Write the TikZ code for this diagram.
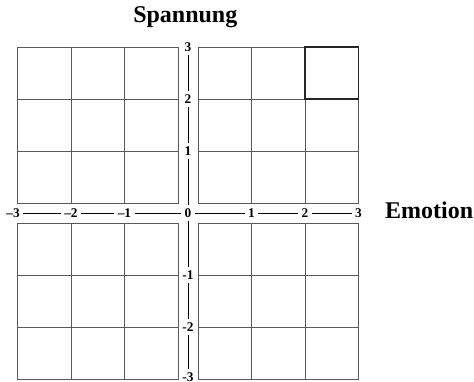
\documentclass[tikz,border=0pt]{standalone}
\usepackage{fontspec}
\setmainfont{Liberation Serif}
\usetikzlibrary{positioning}

\begin{document}
\begin{tikzpicture}[x=40.125pt, y=39pt,
    quadgrid/.style={draw=black!65, line width=0.5pt},
    hlcell/.style={draw=black!85, line width=1.2pt},
    axlabel/.style={font=\fontsize{10}{11}\selectfont\bfseries, inner sep=2.5pt},
    axtitle/.style={font=\fontsize{18}{20}\selectfont\bfseries, inner sep=0pt}]
                \useasboundingbox (-3.514,-3.25) rectangle (5.346,4.096);

                % Quadrants
                \foreach \sx/\sy in {1/1,-1/1,1/-1,-1/-1}
                    \foreach \i in {0,1,2}
                        \foreach \j in {0,1,2}
                            \draw[quadgrid] ({\sx*(0.187+\i)},{\sy*(0.192+\j)}) rectangle ++(\sx,\sy);

                % Marked cell
                \draw[hlcell] (2.187,2.192) rectangle (3.187,3.192);

                % Tick labels
                \node[axlabel] (o) at (0,0) {0};
                \foreach \k in {1,2,3} {
                    \node[axlabel] (xp\k) at (\k+0.187,0) {\k};
                    \node[axlabel] (yp\k) at (0,\k+0.192) {\k};
                }
                \node[axlabel] (xm1) at (-1.187,0) {–1};
                \node[axlabel] (xm2) at (-2.187,0) {–2};
                \node[axlabel] (xm3) at (-3.27,0) {–3};
                \node[axlabel] (ym1) at (0,-1.192) {-1};
                \node[axlabel] (ym2) at (0,-2.192) {-2};
                \node[axlabel] (ym3) at (0,-3.15) {-3};

                % Axes
                \draw (xm3) -- (xm2) -- (xm1) -- (o) -- (xp1) -- (xp2) -- (xp3);
                \draw (yp3) -- (yp2) -- (yp1) -- (o) -- (ym1) -- (ym2) -- (ym3);

                % Titles
                \node[axtitle, anchor=base] (span) at (-0.05,3.654) {Spannung};
                \node[axtitle, anchor=base west] (emo) at (3.68,-0.115) {Emotion};
            \end{tikzpicture}
\end{document}
